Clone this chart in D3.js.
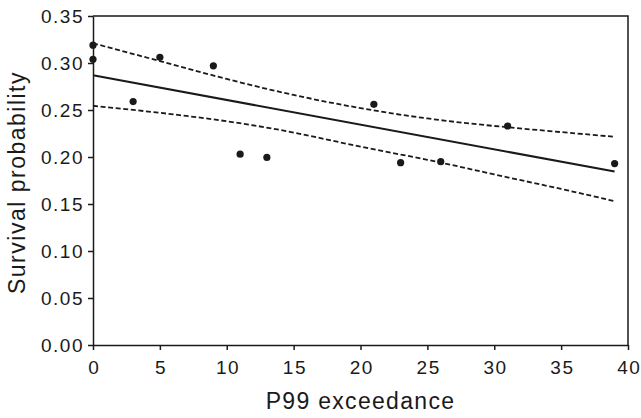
<!DOCTYPE html>
<html lang="en">
<head>
  <meta charset="UTF-8">
  <title>Survival probability vs P99 exceedance</title>
  <style>
    body { margin: 0; background: #fff; }
    svg text { font-family: "Liberation Sans", Arial, sans-serif; fill: #1a1a1a; }
  </style>
</head>
<body>
<div id="chart"></div>

<script src="https://cdn.jsdelivr.net/npm/d3@7"></script>
<script>
  // observed points
  const exceedance = [0, 0, 3, 5, 9, 11, 13, 21, 23, 26, 31, 39];
  const survival = [0.319, 0.304, 0.259, 0.306, 0.297, 0.203, 0.1995, 0.256, 0.194, 0.195, 0.233, 0.193];

  // fitted line and confidence band
  const fitX = [0, 39];
  const fitY = [0.287, 0.1845];
  const bandX = [0, 5, 10, 15, 20, 25, 30, 35, 39];
  const bandUpper = [0.321, 0.302, 0.283, 0.266, 0.252, 0.241, 0.233, 0.2265, 0.2215];
  const bandLower = [0.2545, 0.247, 0.238, 0.226, 0.211, 0.197, 0.1815, 0.166, 0.153];

  const xTicks = [0, 5, 10, 15, 20, 25, 30, 35, 40];
  const yTicks = [0, 0.05, 0.10, 0.15, 0.20, 0.25, 0.30, 0.35];

  const margin = {top: 16, right: 13, bottom: 73, left: 93},
    width = 641 - margin.left - margin.right,
    height = 418 - margin.top - margin.bottom;

  const svg = d3.select('#chart').append('svg')
    .attr('width', 641)
    .attr('height', 418)
    .append('g')
    .attr('transform', 'translate(' + margin.left + ',' + margin.top + ')');

  const x = d3.scaleLinear().domain([0, 40]).range([0, width]);
  const y = d3.scaleLinear().domain([0, 0.35]).range([height, 0]);

  const ink = '#1a1a1a';

  // frame top / right
  svg.append('path')
    .attr('d', 'M0,0H' + width + 'V' + height)
    .attr('fill', 'none')
    .attr('stroke', ink)
    .attr('stroke-width', 1.5);

  const xAxis = svg.append('g')
    .attr('transform', 'translate(0,' + height + ')')
    .call(d3.axisBottom(x).tickValues(xTicks).tickSize(5).tickPadding(11).tickSizeOuter(0));

  const yAxis = svg.append('g')
    .call(d3.axisLeft(y).tickValues(yTicks).tickFormat(d3.format('.2f')).tickSize(5).tickPadding(4).tickSizeOuter(0));

  [xAxis, yAxis].forEach(function(a) {
    a.selectAll('path, line').attr('stroke', ink).attr('stroke-width', 1.5);
    a.selectAll('text').attr('font-size', 19).attr('letter-spacing', 1.5).style('fill', ink);
  });
  // keep x tick labels centred despite the trailing letter spacing
  xAxis.selectAll('text').attr('dx', 0.75);

  const line = d3.line()
    .x(function(d) { return x(d[0]); })
    .y(function(d) { return y(d[1]); });

  const bandLine = d3.line()
    .x(function(d) { return x(d[0]); })
    .y(function(d) { return y(d[1]); })
    .curve(d3.curveNatural);

  [bandUpper, bandLower].forEach(function(vals) {
    svg.append('path')
      .datum(bandX.map(function(v, i) { return [v, vals[i]]; }))
      .attr('fill', 'none')
      .attr('stroke', ink)
      .attr('stroke-width', 1.8)
      .attr('stroke-dasharray', '5,2.6')
      .attr('d', bandLine);
  });

  svg.append('path')
    .datum(fitX.map(function(v, i) { return [v, fitY[i]]; }))
    .attr('fill', 'none')
    .attr('stroke', ink)
    .attr('stroke-width', 2.1)
    .attr('d', line);

  svg.selectAll('circle')
    .data(exceedance.map(function(v, i) { return [v, survival[i]]; }))
    .enter().append('circle')
    .attr('cx', function(d) { return x(d[0]); })
    .attr('cy', function(d) { return y(d[1]); })
    .attr('r', 3.6)
    .attr('fill', ink);

  svg.append('text')
    .attr('x', width / 2)
    .attr('y', height + 64)
    .attr('text-anchor', 'middle')
    .attr('font-size', 23)
    .attr('letter-spacing', 1.3)
    .text('P99 exceedance');

  svg.append('text')
    .attr('transform', 'translate(' + (-68) + ',' + (height / 2 + 2) + ') rotate(-90)')
    .attr('text-anchor', 'middle')
    .attr('font-size', 23)
    .attr('letter-spacing', 1.5)
    .text('Survival probability');
</script>
</body>
</html>
